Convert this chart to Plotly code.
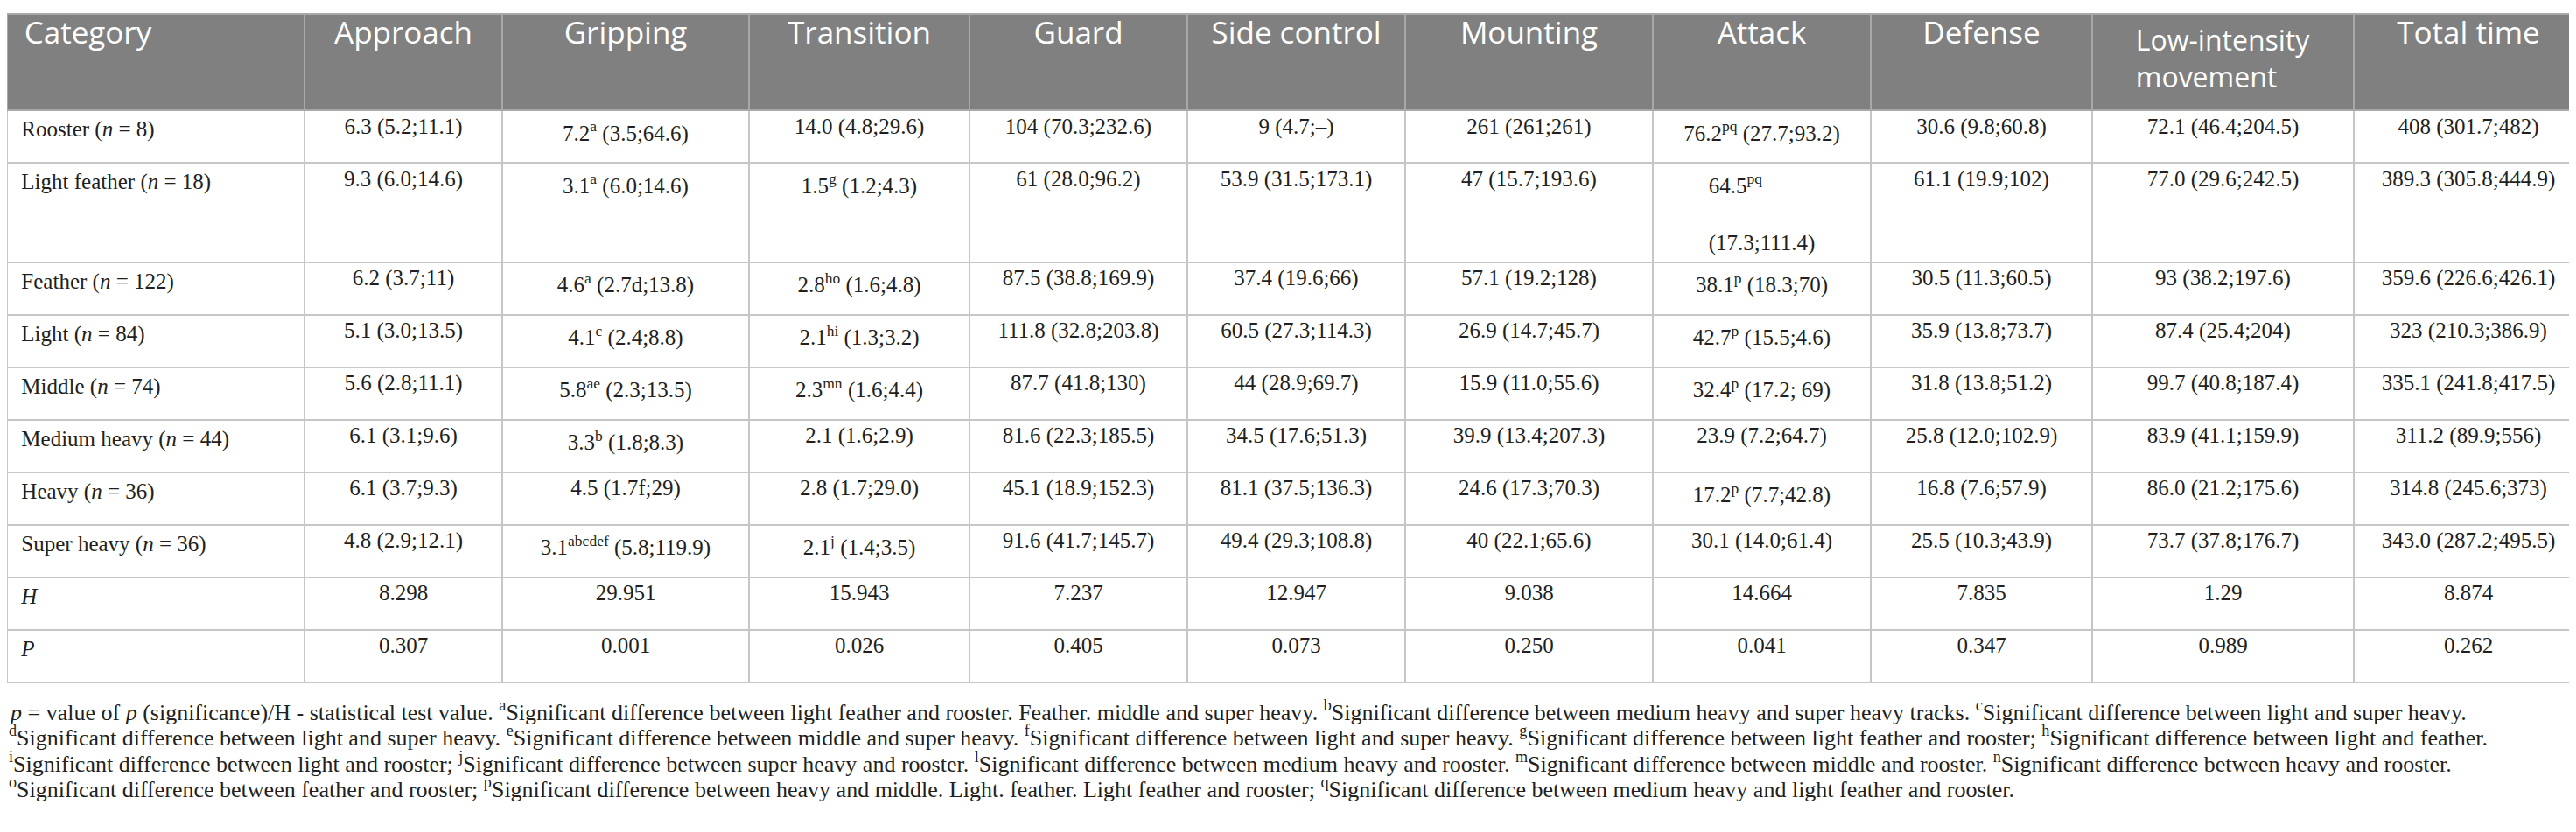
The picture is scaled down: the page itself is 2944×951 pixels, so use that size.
import plotly.graph_objects as go

# table content (median (Q1;Q3) per weight category, seconds)
header = ["Category", "Approach", "Gripping", "Transition", "Guard", "Side control",
          "Mounting", "Attack", "Defense", "Low-intensity<br>movement", "Total time"]

category = ["Rooster (<i>n</i> = 8)", "Light feather (<i>n</i> = 18)", "Feather (<i>n</i> = 122)",
            "Light (<i>n</i> = 84)", "Middle (<i>n</i> = 74)", "Medium heavy (<i>n</i> = 44)",
            "Heavy (<i>n</i> = 36)", "Super heavy (<i>n</i> = 36)", "<i>H</i>", "<i>P</i>"]
approach = ["6.3 (5.2;11.1)", "9.3 (6.0;14.6)", "6.2 (3.7;11)", "5.1 (3.0;13.5)", "5.6 (2.8;11.1)",
            "6.1 (3.1;9.6)", "6.1 (3.7;9.3)", "4.8 (2.9;12.1)", "8.298", "0.307"]
gripping = ["7.2<sup>a</sup> (3.5;64.6)", "3.1<sup>a</sup> (6.0;14.6)", "4.6<sup>a</sup> (2.7d;13.8)",
            "4.1<sup>c</sup> (2.4;8.8)", "5.8<sup>ae</sup> (2.3;13.5)", "3.3<sup>b</sup> (1.8;8.3)",
            "4.5 (1.7f;29)", "3.1<sup>abcdef</sup> (5.8;119.9)", "29.951", "0.001"]
transition = ["14.0 (4.8;29.6)", "1.5<sup>g</sup> (1.2;4.3)", "2.8<sup>ho</sup> (1.6;4.8)",
              "2.1<sup>hi</sup> (1.3;3.2)", "2.3<sup>mn</sup> (1.6;4.4)", "2.1 (1.6;2.9)",
              "2.8 (1.7;29.0)", "2.1<sup>j</sup> (1.4;3.5)", "15.943", "0.026"]
guard = ["104 (70.3;232.6)", "61 (28.0;96.2)", "87.5 (38.8;169.9)", "111.8 (32.8;203.8)",
         "87.7 (41.8;130)", "81.6 (22.3;185.5)", "45.1 (18.9;152.3)", "91.6 (41.7;145.7)",
         "7.237", "0.405"]
side_control = ["9 (4.7;–)", "53.9 (31.5;173.1)", "37.4 (19.6;66)", "60.5 (27.3;114.3)",
                "44 (28.9;69.7)", "34.5 (17.6;51.3)", "81.1 (37.5;136.3)", "49.4 (29.3;108.8)",
                "12.947", "0.073"]
mounting = ["261 (261;261)", "47 (15.7;193.6)", "57.1 (19.2;128)", "26.9 (14.7;45.7)",
            "15.9 (11.0;55.6)", "39.9 (13.4;207.3)", "24.6 (17.3;70.3)", "40 (22.1;65.6)",
            "9.038", "0.250"]
attack = ["76.2<sup>pq</sup> (27.7;93.2)", "64.5<sup>pq</sup><br><br>(17.3;111.4)",
          "38.1<sup>p</sup> (18.3;70)", "42.7<sup>p</sup> (15.5;4.6)", "32.4<sup>p</sup> (17.2; 69)",
          "23.9 (7.2;64.7)", "17.2<sup>p</sup> (7.7;42.8)", "30.1 (14.0;61.4)", "14.664", "0.041"]
defense = ["30.6 (9.8;60.8)", "61.1 (19.9;102)", "30.5 (11.3;60.5)", "35.9 (13.8;73.7)",
           "31.8 (13.8;51.2)", "25.8 (12.0;102.9)", "16.8 (7.6;57.9)", "25.5 (10.3;43.9)",
           "7.835", "0.347"]
low_intensity = ["72.1 (46.4;204.5)", "77.0 (29.6;242.5)", "93 (38.2;197.6)", "87.4 (25.4;204)",
                 "99.7 (40.8;187.4)", "83.9 (41.1;159.9)", "86.0 (21.2;175.6)", "73.7 (37.8;176.7)",
                 "1.29", "0.989"]
total_time = ["408 (301.7;482)", "389.3 (305.8;444.9)", "359.6 (226.6;426.1)", "323 (210.3;386.9)",
              "335.1 (241.8;417.5)", "311.2 (89.9;556)", "314.8 (245.6;373)", "343.0 (287.2;495.5)",
              "8.874", "0.262"]

footnotes = [
    "<i>p</i> = value of <i>p</i> (significance)/H - statistical test value. <sup>a</sup>Significant difference between light feather and rooster. Feather. middle and super heavy. <sup>b</sup>Significant difference between medium heavy and super heavy tracks. <sup>c</sup>Significant difference between light and super heavy.",
    "<sup>d</sup>Significant difference between light and super heavy. <sup>e</sup>Significant difference between middle and super heavy. <sup>f</sup>Significant difference between light and super heavy. <sup>g</sup>Significant difference between light feather and rooster; <sup>h</sup>Significant difference between light and feather.",
    "<sup>i</sup>Significant difference between light and rooster; <sup>j</sup>Significant difference between super heavy and rooster. <sup>l</sup>Significant difference between medium heavy and rooster. <sup>m</sup>Significant difference between middle and rooster. <sup>n</sup>Significant difference between heavy and rooster.",
    "<sup>o</sup>Significant difference between feather and rooster; <sup>p</sup>Significant difference between heavy and middle. Light. feather. Light feather and rooster; <sup>q</sup>Significant difference between medium heavy and light feather and rooster.",
]

W, H = 2944, 951
col_widths = [340, 226, 282, 252, 249, 249, 283, 249, 253, 299, 262]
serif = "Liberation Serif, Times New Roman, serif"

columns = [["\u2004" + c for c in category], approach, gripping, transition, guard, side_control,
           mounting, attack, defense, low_intensity, total_time]
head = ["\u2004" + header[0]] + header[1:]
# the two-line header cell is set a little smaller so the header keeps its height
head_sizes = [35] * 9 + [32] + [35]

fig = go.Figure(go.Table(
    domain=dict(x=[0, 1], y=[0.1, 1 - 8 / H]),
    columnwidth=col_widths,
    header=dict(values=head, height=110, fill_color="#808080",
                line=dict(color="#a8a8a8", width=2),
                align=["left"] + ["center"] * 10,
                font=dict(family="Open Sans", size=head_sizes, color="white")),
    cells=dict(values=columns, height=60, fill_color="white",
               line=dict(color="#c6c6c6", width=2),
               align=["left"] + ["center"] * 10,
               font=dict(family=serif, size=25, color="#231f20")),
))

# footnote lines below the table
first_line, line_gap = 804, 29.5
for i, line in enumerate(footnotes):
    fig.add_annotation(text=line, xref="paper", yref="paper",
                       x=0, y=1 - (first_line + i * line_gap) / H,
                       xanchor="left", yanchor="middle", align="left", showarrow=False,
                       font=dict(family=serif, size=26, color="#231f20"))

fig.update_layout(width=W, height=H, margin=dict(l=0, r=0, t=0, b=0),
                  paper_bgcolor="white", plot_bgcolor="white")

fig.write_html("out.html")
